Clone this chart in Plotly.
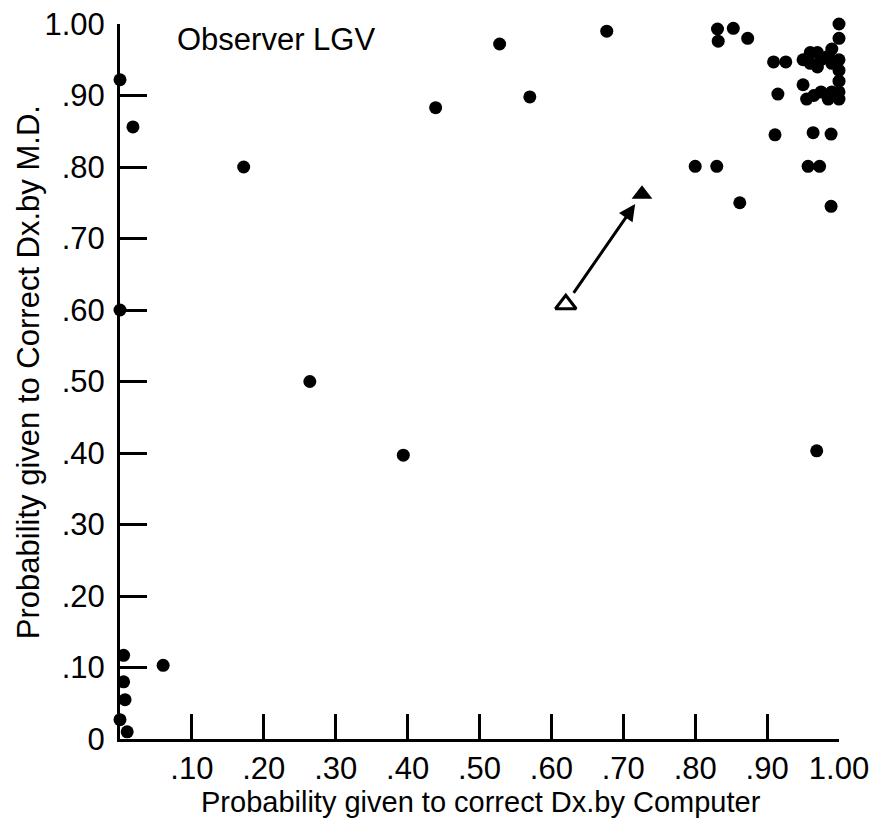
import plotly.graph_objects as go

# ---- data ----
# filled dots: probability by computer (x) vs probability by M.D. (y)
comp_prob = [
    0.0, 0.018, 0.172, 0.439, 0.528, 0.57, 0.677,
    0.0, 0.264, 0.394, 0.06,
    0.005, 0.005, 0.007, 0.0, 0.01,
    0.831, 0.832, 0.853, 0.873, 1.0,
    0.909, 0.926, 0.915,
    1.0, 0.99,
    0.95, 0.96, 0.97, 0.975, 0.985, 0.99, 1.0, 0.96, 0.97,
    1.0, 1.0,
    0.95, 0.955, 0.965, 0.975, 0.985, 0.99, 1.0, 1.0,
    0.911, 0.964, 0.989,
    0.80, 0.83, 0.957, 0.973,
    0.862, 0.989,
    0.969,
]
md_prob = [
    0.922, 0.856, 0.80, 0.883, 0.972, 0.898, 0.99,
    0.60, 0.50, 0.397, 0.103,
    0.117, 0.08, 0.055, 0.027, 0.01,
    0.993, 0.976, 0.994, 0.98, 1.0,
    0.947, 0.947, 0.902,
    0.98, 0.965,
    0.95, 0.96, 0.96, 0.95, 0.955, 0.945, 0.95, 0.945, 0.94,
    0.935, 0.92,
    0.915, 0.895, 0.90, 0.905, 0.895, 0.905, 0.895, 0.905,
    0.845, 0.848, 0.846,
    0.801, 0.801, 0.801, 0.801,
    0.75, 0.745,
    0.403,
]
# open triangle (before) and filled triangle (after)
open_tri = (0.62, 0.608)
filled_tri = (0.726, 0.762)

tick_vals_x = [0.1, 0.2, 0.3, 0.4, 0.5, 0.6, 0.7, 0.8, 0.9, 1.0]
tick_text_x = [".10", ".20", ".30", ".40", ".50", ".60", ".70", ".80", ".90", "1.00"]
tick_vals_y = [0.0, 0.1, 0.2, 0.3, 0.4, 0.5, 0.6, 0.7, 0.8, 0.9, 1.0]
tick_text_y = ["0", ".10", ".20", ".30", ".40", ".50", ".60", ".70", ".80", ".90", "1.00"]

FONT = "Liberation Sans, Arial, sans-serif"

fig = go.Figure()
fig.add_trace(go.Scatter(
    x=comp_prob, y=md_prob, mode="markers",
    marker=dict(symbol="circle", size=13, color="black"),
    cliponaxis=False, showlegend=False,
))
fig.add_trace(go.Scatter(
    x=[open_tri[0]], y=[open_tri[1]], mode="markers",
    marker=dict(symbol="triangle-up-open", size=18, color="black", line=dict(width=3, color="black")),
    cliponaxis=False, showlegend=False,
))
fig.add_trace(go.Scatter(
    x=[filled_tri[0]], y=[filled_tri[1]], mode="markers",
    marker=dict(symbol="triangle-up", size=18, color="black"),
    cliponaxis=False, showlegend=False,
))

# arrow from open to filled triangle
fig.add_annotation(
    x=filled_tri[0], y=filled_tri[1], ax=open_tri[0], ay=open_tri[1],
    xref="x", yref="y", axref="x", ayref="y",
    text="", showarrow=True, arrowhead=2, arrowsize=1.1, arrowwidth=3,
    arrowcolor="black", standoff=12, startstandoff=12,
)

fig.add_annotation(
    text="Observer LGV", xref="paper", yref="paper", x=0.0765, y=0.979,
    xanchor="left", yanchor="middle", showarrow=False,
    font=dict(family=FONT, size=31, color="black"),
)
fig.add_annotation(
    text="Probability given to correct Dx.by Computer", xref="paper", yref="paper",
    x=0.502, y=-0.088, xanchor="center", yanchor="middle", showarrow=False,
    font=dict(family=FONT, size=29, color="black"),
)
fig.add_annotation(
    text="Probability given to Correct Dx.by M.D.", xref="paper", yref="paper",
    x=-0.128, y=0.513, xanchor="center", yanchor="middle", showarrow=False,
    textangle=-90,
    font=dict(family=FONT, size=31, color="black"),
)

axis_common = dict(
    range=[0, 1], showgrid=False, zeroline=False, showline=True,
    linecolor="black", linewidth=3, ticks="inside", tickwidth=2.5,
    tickcolor="black", tickmode="array", mirror=False, automargin=False,
    ticklabeloverflow="allow",
    tickfont=dict(family=FONT, size=31, color="black"),
)
fig.update_xaxes(**axis_common, tickvals=tick_vals_x, ticktext=tick_text_x, ticklen=25,
                 ticklabelstandoff=0)
fig.update_yaxes(**axis_common, tickvals=tick_vals_y, ticktext=tick_text_y, ticklen=27,
                 ticklabelstandoff=6)

# the page body adds an 8px margin, so the figure is 8px smaller and shifted
fig.update_layout(
    width=872, height=815,
    margin=dict(l=112, r=41, t=16, b=84),
    paper_bgcolor="white", plot_bgcolor="white",
    showlegend=False,
)

fig.write_html("out.html")
